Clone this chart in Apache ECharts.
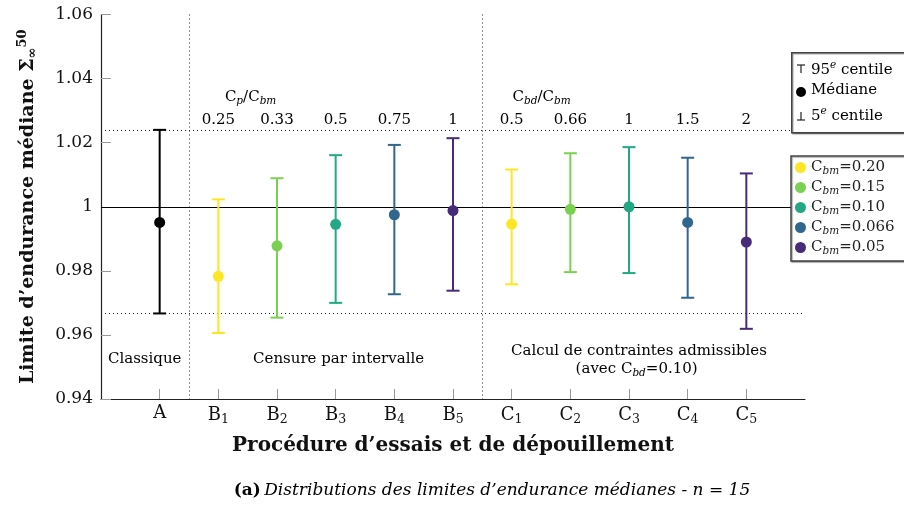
<!DOCTYPE html>
<html><head><meta charset="utf-8">
<script src="https://cdn.jsdelivr.net/npm/echarts@6/dist/echarts.min.js"></script>
<style>html,body{margin:0;padding:0;background:#fff}#c{width:904px;height:506px}</style>
</head><body><div id="c"></div>
<script>
// ---- data ----
const categories = ['A','B1','B2','B3','B4','B5','C1','C2','C3','C4','C5'];
const p95    = [1.0240,1.0023,1.0089,1.0161,1.0193,1.0214,1.0116,1.0167,1.0186,1.0153,1.0104];
const median = [0.9951,0.9783,0.9878,0.9945,0.9975,0.9988,0.9946,0.9992,1.0000,0.9951,0.9890];
const p5     = [0.9667,0.9606,0.9654,0.9700,0.9727,0.9738,0.9758,0.9796,0.9793,0.9716,0.9619];
const cbmLabels = ['0.20','0.15','0.10','0.066','0.05'];
const ratioLabels = ['', '0.25','0.33','0.5','0.75','1','0.5','0.66','1','1.5','2'];
const groupSeparators = [1.5, 6.5];
const colors = ['#fde725','#7ad151','#22a884','#30678d','#472a7a'];

const SERIF = "'DejaVu Serif', serif";
const chart = echarts.init(document.getElementById('c'), null, {renderer:'canvas'});

function errItem(params, api){
  const x = api.value(0);
  const lo = api.coord([x, api.value(1)]);
  const md = api.coord([x, api.value(2)]);
  const hi = api.coord([x, api.value(3)]);
  const c = api.visual('color');
  const hw = 6.5, lw = 2;
  return {type:'group', children:[
    {type:'line', shape:{x1:hi[0],y1:hi[1],x2:lo[0],y2:lo[1]}, style:{stroke:c,lineWidth:lw}},
    {type:'line', shape:{x1:hi[0]-hw,y1:hi[1],x2:hi[0]+hw,y2:hi[1]}, style:{stroke:c,lineWidth:lw}},
    {type:'line', shape:{x1:lo[0]-hw,y1:lo[1],x2:lo[0]+hw,y2:lo[1]}, style:{stroke:c,lineWidth:lw}},
    {type:'circle', shape:{cx:md[0],cy:md[1],r:5.5}, style:{fill:c}}
  ]};
}
function pt(i){ return [i+1, p5[i], median[i], p95[i]]; }

const subRich = {
  n:{fontFamily:SERIF,fontSize:15,color:'#222'},
  s:{fontFamily:SERIF,fontSize:10.5,fontStyle:'italic',color:'#222',padding:[8,0,0,0]},
  p:{fontFamily:SERIF,fontSize:10.5,fontStyle:'italic',color:'#222',padding:[0,0,10,0]}
};

// annotation texts: [x, y, text]
const annotations = [
  [2.55, 1.0343, '{n|C}{s|p}{n|/C}{s|bm}'],
  [7.51, 1.0343, '{n|C}{s|bd}{n|/C}{s|bm}'],
  [0.745, 0.9524, '{n|Classique}'],
  [4.05, 0.9524, '{n|Censure par intervalle}'],
  [9.17, 0.9548, '{n|Calcul de contraintes admissibles}'],
  [9.13, 0.9493, '{n|(avec C}{s|bd}{n|=0.10)}']
];
ratioLabels.forEach((t,i)=>{ if(t) annotations.push([i+1, 1.0271, '{n|'+t+'}']); });

// guide lines: [orientation (0 = horizontal, 1 = vertical), value]
const guides = [[0,1.0],[0,p95[0]],[0,p5[0]]].concat(groupSeparators.map(v=>[1,v]));

const series = [{
  name:'guides', type:'custom', silent:true, z:1,
  renderItem:function(params, api){
    const cs = params.coordSys;
    const o = api.value(0), v = api.value(1);
    const solid = (o===0 && params.dataIndex===0);
    const style = solid ? {stroke:'#000',lineWidth:1} : {stroke:'#222',lineWidth:1,lineDash:[1,3]};
    if(o===0){
      const y = Math.round(api.coord([0, v])[1]) + 0.5;
      return {type:'line', shape:{x1:cs.x,y1:y,x2:cs.x+cs.width,y2:y}, style:style};
    }
    const x = Math.round(api.coord([v, 1])[0]) + 0.5;
    return {type:'line', shape:{x1:x,y1:cs.y,x2:x,y2:cs.y+cs.height}, style:style};
  },
  data:guides
},{
  name:'Classique', type:'custom', renderItem:errItem, z:3,
  itemStyle:{color:'#000'}, data:[pt(0)]
}];
cbmLabels.forEach((lab,k)=>{
  series.push({name:lab, type:'custom', renderItem:errItem, z:3,
    itemStyle:{color:colors[k]}, data:[pt(k+1), pt(k+6)]});
});
series.push({name:'annot', type:'custom', silent:true, z:4,
  renderItem:function(params, api){
    const d = annotations[params.dataIndex];
    const p = api.coord([d[0], d[1]]);
    return {type:'text', x:p[0], y:p[1], style:{text:d[2], rich:subRich, align:'center', verticalAlign:'middle'}};
  },
  data: annotations.map(a=>[a[0],a[1]])
});

chart.setOption({
  animation:false,
  backgroundColor:'#fff',
  grid:{left:101, right:99, top:14.5, bottom:107, containLabel:false},
  xAxis:{type:'value', min:0, max:12, interval:1,
    name:'Procédure d’essais et de dépouillement', nameLocation:'middle', nameGap:37,
    nameTextStyle:{fontFamily:SERIF,fontWeight:'bold',fontSize:20,color:'#111'},
    axisLine:{lineStyle:{color:'#222',width:1.2}},
    axisTick:{inside:true,length:10,customValues:[1,2,3,4,5,6,7,8,9,10,11],lineStyle:{color:'#999'}},
    splitLine:{show:false},
    axisLabel:{customValues:[1,2,3,4,5,6,7,8,9,10,11], margin:5,
      formatter:function(v){ const c = categories[Math.round(v)-1]||''; return c.length>1 ? '{n|'+c[0]+'}{s|'+c.slice(1)+'}' : '{n|'+c+'}'; },
      rich:{n:{fontFamily:SERIF,fontSize:18,color:'#111'}, s:{fontFamily:SERIF,fontSize:12.5,color:'#111',padding:[9,0,0,0]}}}
  },
  yAxis:{type:'value', min:0.94, max:1.06, interval:0.02,
    name:'{n|Limite d’endurance médiane Σ}{s|∞}{p|50}', nameLocation:'middle', nameRotate:90, nameGap:60,
    nameTextStyle:{rich:{
      n:{fontFamily:SERIF,fontWeight:'bold',fontSize:19,color:'#111'},
      s:{fontFamily:SERIF,fontWeight:'bold',fontSize:13,color:'#111',padding:[9,0,0,0]},
      p:{fontFamily:SERIF,fontWeight:'bold',fontSize:13,color:'#111',padding:[0,0,12,0]}}},
    axisLine:{show:true,lineStyle:{color:'#222',width:1.2}},
    axisTick:{show:true,inside:true,length:10,lineStyle:{color:'#999'}},
    splitLine:{show:false},
    axisLabel:{margin:8,fontFamily:SERIF,fontSize:17,color:'#111',
      formatter:function(v){ return String(Math.round(v*100)/100); }}
  },
  legend:{data:cbmLabels, orient:'vertical', left:791, top:156, icon:'circle',
    itemWidth:11, itemHeight:11, itemGap:3, itemStyle:{borderWidth:0},
    padding:[4,40,4,4], backgroundColor:'#fff', borderColor:'#444', borderWidth:1.5,
    shadowColor:'rgba(0,0,0,0.35)', shadowOffsetX:1, shadowOffsetY:1, shadowBlur:1,
    formatter:function(name){ return '{n|C}{s|bm}{n|='+name+'}'; },
    textStyle:{rich:subRich}, selectedMode:false},
  graphic:[
    {type:'rect', left:791, top:52, shape:{width:140,height:80}, z:10,
      style:{fill:'#fff',stroke:'#444',lineWidth:1.5,shadowColor:'rgba(0,0,0,0.35)',shadowOffsetX:1,shadowOffsetY:1,shadowBlur:1}},
    {type:'line', z:11, shape:{x1:797,y1:65,x2:805,y2:65}, style:{stroke:'#222',lineWidth:1.2}},
    {type:'line', z:11, shape:{x1:801,y1:65,x2:801,y2:73}, style:{stroke:'#222',lineWidth:1.2}},
    {type:'text', left:811, top:60, z:11, style:{text:'{n|95}{p|e}{n| centile}', rich:subRich}},
    {type:'circle', z:11, shape:{cx:801,cy:92,r:5}, style:{fill:'#000'}},
    {type:'text', left:811, top:83, z:11, style:{text:'{n|Médiane}', rich:subRich}},
    {type:'line', z:11, shape:{x1:797,y1:120,x2:805,y2:120}, style:{stroke:'#222',lineWidth:1.2}},
    {type:'line', z:11, shape:{x1:801,y1:112,x2:801,y2:120}, style:{stroke:'#222',lineWidth:1.2}},
    {type:'text', left:811, top:106, z:11, style:{text:'{n|5}{p|e}{n| centile}', rich:subRich}},
    {type:'text', x:492, y:491, z:11, style:{text:'{b|(a)} {i|Distributions des limites d’endurance médianes - }{m|n}{i| = 15}',
      align:'center', verticalAlign:'middle',
      rich:{b:{fontFamily:SERIF,fontWeight:'bold',fontSize:17,color:'#111'},
            i:{fontFamily:SERIF,fontStyle:'italic',fontSize:17,color:'#111'},
            m:{fontFamily:SERIF,fontStyle:'italic',fontSize:17,color:'#111'}}}}
  ],
  series:series
});
</script>
</body></html>
